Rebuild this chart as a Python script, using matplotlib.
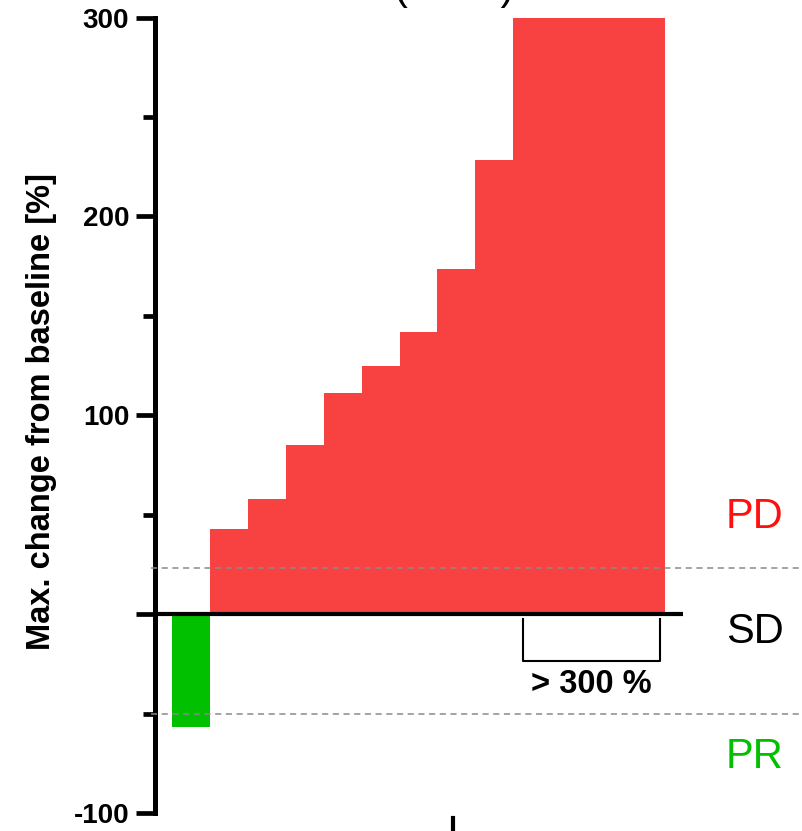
import matplotlib
matplotlib.use("Agg")
import matplotlib.pyplot as plt
from matplotlib.lines import Line2D
from matplotlib.ticker import MultipleLocator

plt.rcParams['font.family'] = ['Liberation Sans', 'DejaVu Sans']

# ---- data ----
patients = list(range(13))
max_change = [-56.7, 42.7, 57.7, 85.0, 111.4, 125.0, 141.7, 173.7, 228.4, 300, 300, 300, 300]
response = ['PR'] + ['PD'] * 12
resp_colors = {'PR': '#00C000', 'PD': '#F84242'}
y_ticks = [-100, 0, 100, 200, 300]
y_ticklabels = ['-100', '', '100', '200', '300']
pd_threshold = 23.4
pr_threshold = -50
bracket_span = (8.76, 12.38)
title_text = '(n=13)'

fig = plt.figure(figsize=(8.03, 8.31), dpi=100)
ax = fig.add_axes([155 / 803, (831 - 813) / 831, (683 - 155) / 803, (813 - 17.5) / 831])

ax.bar(patients, max_change, width=1.0, color=[resp_colors[r] for r in response],
       linewidth=0, zorder=2)

ax.set_xlim(-0.949, 12.975)
ax.set_ylim(-100, 300)

# zero line
ax.axhline(0, color='black', lw=3.0, zorder=3)

# threshold dashed lines extending to the figure edge
for yv in (pd_threshold, pr_threshold):
    ax.plot([-0.008, 1.24], [yv, yv], transform=ax.get_yaxis_transform(), color='#8a8a8a',
            lw=1.1, ls=(0, (4, 3)), clip_on=False, zorder=4)

# spines & ticks
for s in ('top', 'right', 'bottom'):
    ax.spines[s].set_visible(False)
ax.spines['left'].set_linewidth(3.6)
ax.set_xticks([])
ax.set_yticks(y_ticks)
ax.set_yticklabels(y_ticklabels)
ax.yaxis.set_minor_locator(MultipleLocator(50))
ax.tick_params(axis='y', which='major', length=13.5, width=3.4, pad=5,
               labelsize=20)
ax.tick_params(axis='y', which='minor', length=8.5, width=3.4)
for lab in ax.get_yticklabels():
    lab.set_fontweight('bold')

ax.set_ylabel('Max. change from baseline [%]', fontsize=23.5, fontweight='bold')
ax.yaxis.set_label_coords(-0.185, 0.505)

# bracket for >300 %
bx0, bx1 = bracket_span
ax.plot([bx0, bx0, bx1, bx1], [-2.5, -23.6, -23.6, -2.5], color='black', lw=1.5,
        clip_on=False, zorder=4)
ax.text((bx0 + bx1) / 2, -35.5, '> 300 %', ha='center', va='center', fontsize=23.5,
        fontweight='bold')

# response labels
fig.text(755 / 803, 1 - 517 / 831, 'PD', color='#FF1010', fontsize=30, ha='center', va='center')
fig.text(755 / 803, 1 - 632 / 831, 'SD', color='black', fontsize=30, ha='center', va='center')
fig.text(755 / 803, 1 - 757 / 831, 'PR', color='#00C000', fontsize=30, ha='center', va='center')

# partially visible title (cut off at the top edge, as in the reference)
fig.text(454 / 803, 1 + 1 / 831, title_text, fontsize=30, ha='center', va='baseline')

# stray tick mark at the bottom
fig.add_artist(Line2D([453 / 803, 453 / 803], [0, 13 / 831], color='black', lw=3,
                      transform=fig.transFigure))

fig.savefig('out.png', dpi=100)
